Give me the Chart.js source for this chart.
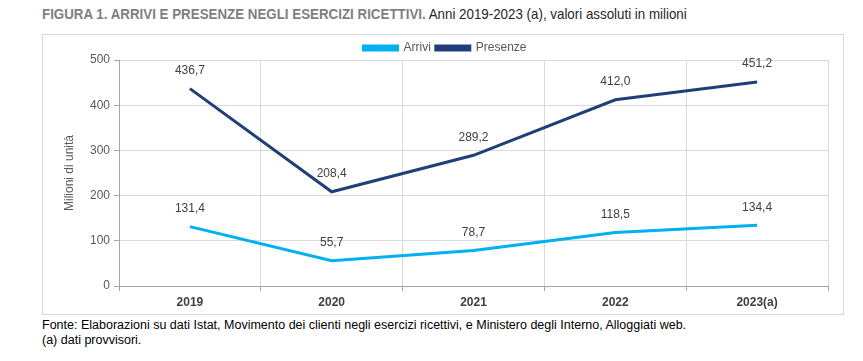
<!DOCTYPE html>
<html><head><meta charset="utf-8">
<script src="https://cdn.jsdelivr.net/npm/chart.js@4.4.0/dist/chart.umd.min.js"></script>
<style>
html,body{margin:0;padding:0;background:#fff;width:863px;height:361px;overflow:hidden;font-family:"Liberation Sans Narrow","Arial Narrow","Liberation Sans",sans-serif;}
#title{position:absolute;left:42px;top:6px;font-size:14.5px;white-space:nowrap;color:#262626;transform:scaleX(0.92);transform-origin:0 0;}
#title b{color:#7f7f7f;}
#box{position:absolute;left:42px;top:34px;width:800px;height:279px;border:1px solid #d9d9d9;}
#foot{position:absolute;left:42px;top:318px;font-size:12.5px;line-height:15px;color:#000;white-space:nowrap;}
</style></head><body>
<div id="title"><b>FIGURA 1. ARRIVI E PRESENZE NEGLI ESERCIZI RICETTIVI.</b> Anni 2019-2023 (a), valori assoluti in milioni</div>
<div id="box"><canvas id="c"></canvas></div>
<div id="foot">Fonte: Elaborazioni su dati Istat, Movimento dei clienti negli esercizi ricettivi, e Ministero degli Interno, Alloggiati web.<br>(a) dati provvisori.</div>
<script>
const categories = ["2019","2020","2021","2022","2023(a)"];
const arrivi = [131.4, 55.7, 78.7, 118.5, 134.4];
const presenze = [436.7, 208.4, 289.2, 412.0, 451.2];
const yTicks = [0,100,200,300,400,500];

const FONT = '"Liberation Sans Narrow","Arial Narrow","Liberation Sans",sans-serif';
const fmt = v => v.toFixed(1).replace('.', ',');

const labelPlugin = {
  id:'labels',
  afterInit(chart){
    const lg = chart.legend;
    if (lg) {
      const f = lg.fit;
      lg.fit = function(){ f.call(this); this.height = Math.max(0, this.height - 4); };
    }
  },
  afterDatasetsDraw(chart){
    const ctx = chart.ctx;
    ctx.save();
    ctx.font = '12px ' + FONT;
    ctx.fillStyle = '#404040';
    ctx.textAlign = 'center';
    ctx.textBaseline = 'middle';
    chart.data.datasets.forEach((ds,i)=>{
      chart.getDatasetMeta(i).data.forEach((pt,j)=>{
        ctx.fillText(fmt(ds.data[j]), pt.x, pt.y - 18);
      });
    });
    ctx.restore();
  }
};

new Chart(document.getElementById('c'), {
  type:'line',
  data:{
    labels:categories,
    datasets:[
      {label:'Arrivi', data:arrivi, borderColor:'#00B0F0', backgroundColor:'#00B0F0', borderWidth:3, pointRadius:0, tension:0},
      {label:'Presenze', data:presenze, borderColor:'#1F3F78', backgroundColor:'#1F3F78', borderWidth:3, pointRadius:0, tension:0}
    ]
  },
  options:{
    responsive:true, maintainAspectRatio:false, animation:false,
    layout:{padding:{left:19,right:15,top:2,bottom:0}},
    plugins:{
      legend:{position:'top', labels:{boxWidth:34, boxHeight:4, padding:5, color:'#595959', font:{family:FONT,size:12}}},
      tooltip:{enabled:false}
    },
    scales:{
      x:{
        offset:true,
        grid:{offset:true, color:'#d9d9d9', drawTicks:true, tickLength:5, tickColor:'#a6a6a6'},
        border:{color:'#a6a6a6'},
        ticks:{color:'#404040', font:{family:FONT,size:12,weight:'bold'}, padding:4},
        afterFit(s){ s.height = 28; }
      },
      y:{
        min:0,max:500,
        afterBuildTicks(s){ s.ticks = yTicks.map(v=>({value:v})); },
        grid:{color:'#d9d9d9', tickLength:5, tickColor:'#a6a6a6'},
        border:{color:'#a6a6a6'},
        ticks:{color:'#595959', font:{family:FONT,size:12}, padding:4},
        title:{display:true, text:'Milioni di unità', color:'#595959', font:{family:FONT,size:12}, padding:{top:0,bottom:8}},
        afterFit(s){ s.width = 57; }
      }
    }
  },
  plugins:[labelPlugin]
});
</script>
</body></html>
